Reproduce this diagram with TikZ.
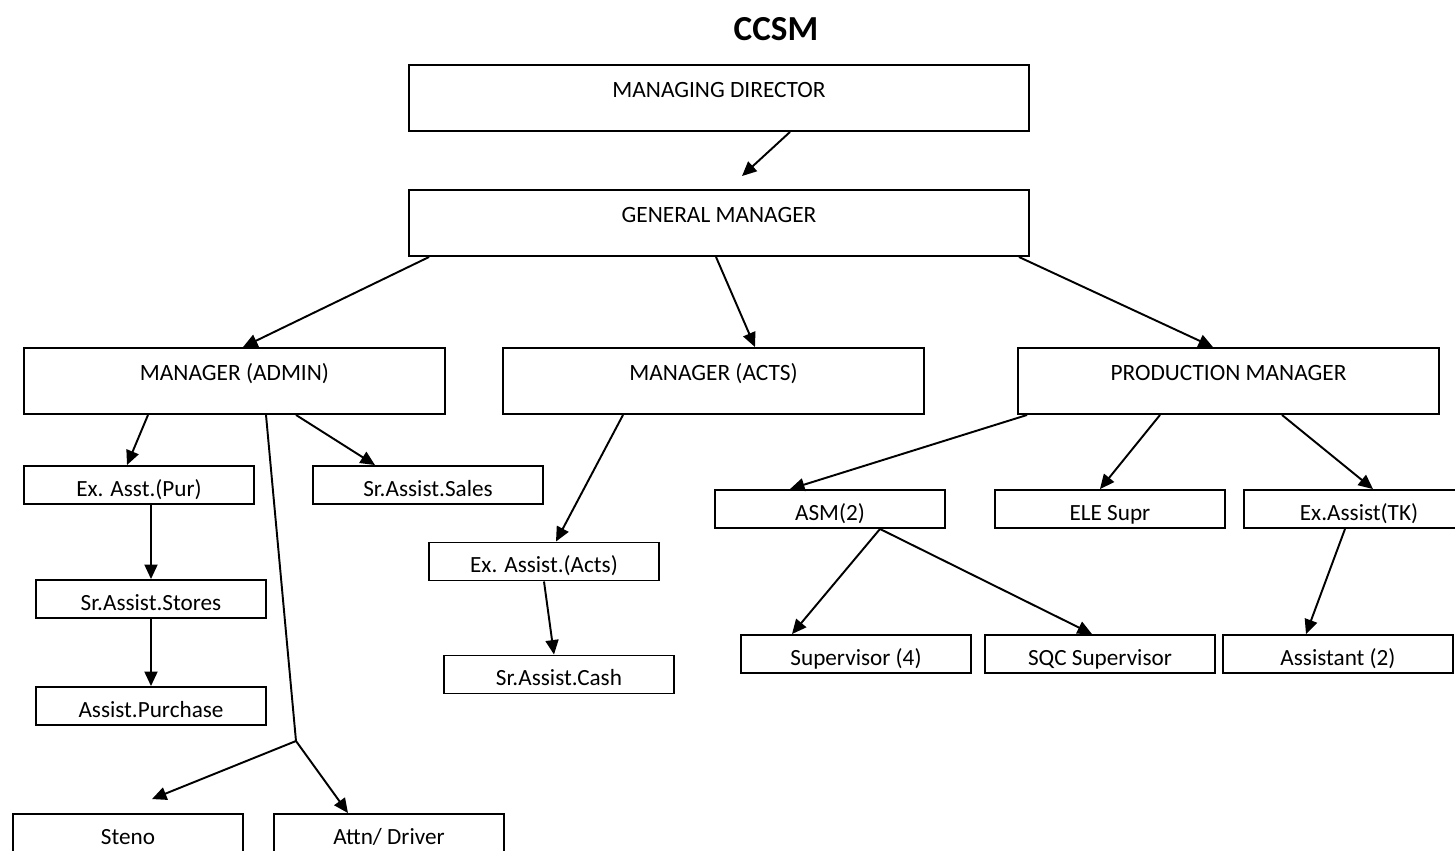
\documentclass[tikz,border=0pt]{standalone}
\usepackage{fontspec}
\setmainfont{Carlito}
\usepackage{tikz}
\usetikzlibrary{arrows.meta,calc}
\tikzset{
  caja/.style={draw=black,line width=1.1pt,inner sep=0pt,minimum width=8.42cm,
    text height=0.64cm,text depth=0.68cm,font=\fontsize{13.3}{15}\selectfont},
  cajita/.style={draw=black,line width=1.1pt,inner sep=0pt,minimum width=4.6cm,
    text height=0.6cm,text depth=0.16cm,font=\fontsize{13.2}{15}\selectfont},
  flecha/.style={-{Triangle[length=2.9mm,width=2.6mm]},line width=1.1pt,color=black},
  linea/.style={line width=1.1pt,color=black},
}
\begin{document}
\begin{tikzpicture}[x=0.02cm,y=-0.02cm,
  ancha/.style={caja,minimum width=12.4cm}]
  \useasboundingbox (0,0) rectangle (1455,850);
  \node[anchor=base,font=\fontsize{20}{24}\selectfont\bfseries] (titulo) at (776,40) {CCSM};
  % top
  \node[ancha] (md) at (719,98) {MANAGING DIRECTOR};
  \node[ancha] (gm) at (719,223) {GENERAL MANAGER};
  % managers
  \node[caja] (admin) at (234.5,381) {MANAGER (ADMIN)};
  \node[caja] (acts) at (713.5,381) {MANAGER (ACTS)};
  \node[caja] (prod) at (1228.5,381) {PRODUCTION MANAGER};
  % admin side
  \node[cajita] (pur) at (139,485) {Ex. Asst.(Pur)};
  \node[cajita] (sales) at (428,485) {Sr.Assist.Sales};
  \node[cajita] (stores) at (151,599) {Sr.Assist.Stores};
  \node[cajita] (purch) at (151,706) {Assist.Purchase};
  \node[cajita] (steno) at (128,833) {Steno};
  \node[cajita] (attn) at (389,833) {Attn/ Driver};
  % accounts side
  \node[cajita] (exacts) at (544,561.5) {Ex. Assist.(Acts)};
  \node[cajita] (cash) at (559,674.5) {Sr.Assist.Cash};
  % production side
  \node[cajita] (asm) at (830,509) {ASM(2)};
  \node[cajita] (ele) at (1110,509) {ELE Supr};
  \node[cajita] (extk) at (1359,509) {Ex.Assist(TK)};
  \node[cajita] (sup) at (856,654) {Supervisor (4)};
  \node[cajita] (sqc) at (1100,654) {SQC Supervisor};
  \node[cajita] (asst) at (1338,654) {Assistant (2)};
  \coordinate (reparto) at (296,741);
  % connectors
  \draw[flecha] ($(md.south)+(71,0)$) -- ($(gm.north)+(23,-13)$);
  \draw[flecha] ($(gm.south west)+(21,0)$) -- ($(admin.north)+(8.5,0)$);
  \draw[flecha] ($(gm.south)+(-3,0)$) -- ($(acts.north)+(41.5,0)$);
  \draw[flecha] ($(gm.south east)+(-11,0)$) -- ($(prod.north)+(-15.5,0)$);
  \draw[flecha] ($(admin.south)+(-86.5,0)$) -- ($(pur.north)+(-12,0)$);
  \draw[flecha] ($(admin.south)+(61.5,0)$) -- ($(sales.north)+(-53,0)$);
  \draw[linea] ($(admin.south)+(31.5,0)$) -- (reparto);
  \draw[flecha] (reparto) -- ($(steno.north)+(24,-14)$);
  \draw[flecha] (reparto) -- ($(attn.north)+(-41,0)$);
  \draw[flecha] (pur.south -| stores.north) -- (stores.north);
  \draw[flecha] (stores.south) -- (purch.north);
  \draw[flecha] ($(acts.south)+(-90.5,0)$) -- ($(exacts.north)+(12,0)$);
  \draw[flecha] (exacts.south) -- ($(cash.north)+(-5,0)$);
  \draw[flecha] ($(prod.south west)+(10,0)$) -- ($(asm.north)+(-40,0)$);
  \draw[flecha] ($(prod.south)+(-68.5,0)$) -- ($(ele.north)+(-10,0)$);
  \draw[flecha] ($(prod.south)+(53.5,0)$) -- ($(extk.north)+(14,0)$);
  \draw[flecha] ($(asm.south)+(50,0)$) -- ($(sup.north)+(-64,0)$);
  \draw[flecha] ($(asm.south)+(50,0)$) -- ($(sqc.north)+(-8,0)$);
  \draw[flecha] ($(extk.south)+(-14,0)$) -- ($(asst.north)+(-32,0)$);
\end{tikzpicture}
\end{document}
